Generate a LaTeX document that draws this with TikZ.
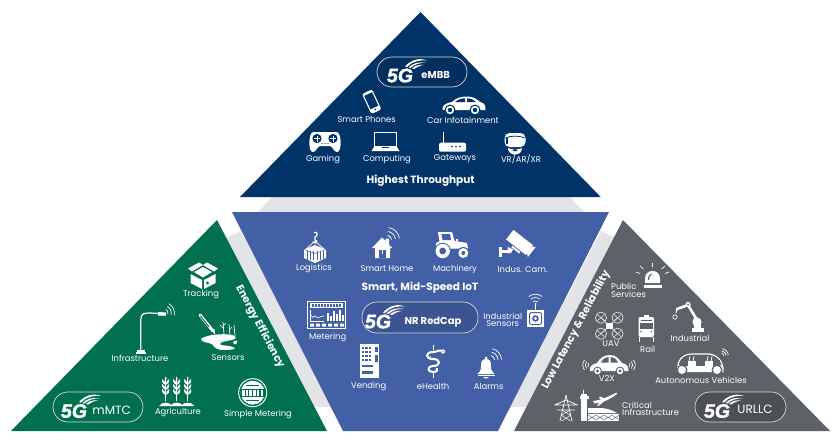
\documentclass[tikz,border=0pt]{standalone}
\usepackage{fontspec}
\setmainfont{Poppins}
\newfontfamily\logofont[BoldItalicFeatures={FakeBold=1.6}]{Liberation Sans}
\definecolor{navy}{RGB}{0,51,104}
\definecolor{bluemid}{RGB}{67,96,166}
\definecolor{greenmid}{RGB}{0,112,78}
\definecolor{graymid}{RGB}{93,98,104}
\definecolor{band}{RGB}{227,228,230}
\tikzset{
  lbl/.style={text=white,font=\fontsize{8.4}{8.4}\selectfont,inner sep=0pt},
  ttl/.style={text=white,font=\fontsize{10.5}{10.5}\selectfont\bfseries,inner sep=0pt},
  pilltxt/.style={text=white,font=\fontsize{10}{10}\selectfont\bfseries,inner sep=0pt},
  pillbig/.style={text=white,font=\fontsize{12}{12}\selectfont,inner sep=0pt},
  ico/.style={fill=white,draw=none},
  lin/.style={draw=white,line width=1pt,fill=none},
  thin line/.style={draw=white,line width=.7pt,fill=none},
  pillbox/.style={draw=white!85!black,line width=.7pt,rounded corners=15pt},
}
\newcommand{\wifiarcs}[5]{% x y angle radius0 step
  \foreach \k in {0,1,2}{
    \pgfmathsetmacro{\rr}{#4+\k*#5}
    \draw[thin line] (#1,#2) ++(#3-38:\rr) arc[start angle=#3-38,end angle=#3+38,radius=\rr];
  }}
\newcommand{\fiveG}[3]{% x y name
  \node[text=white,font=\logofont\fontsize{19.5}{19}\selectfont\bfseries\itshape,inner sep=0pt] (#3) at (#1,#2) {5G};
  \begin{scope}[shift={(#1,#2)}]
    \fill[white] (5,-9) .. controls (11,-16) and (20,-18) .. (27,-15) .. controls (20,-16) and (12,-14) .. (7,-8.5) -- cycle;
    \fill[white] (8.5,-8) .. controls (13,-12.5) and (19,-14) .. (26,-12.7) .. controls (20,-13) and (14.5,-11) .. (10.5,-7.5) -- cycle;
    \fill[white] (12,-7) .. controls (15,-10) and (19,-11) .. (24,-10.6) .. controls (20,-10) and (17,-8.5) .. (14,-6.5) -- cycle;
  \end{scope}}
\newcommand{\wheat}[1]{%
  \begin{scope}[shift={(#1,0)}]
    \draw[lin] (0,378) -- (0,401);
    \foreach \yy in {381,386,391}{
      \fill[white] (0,\yy+4) .. controls (-4,\yy+2) and (-4,\yy) .. (-3.5,\yy-2) .. controls (-1.5,\yy-1) and (-.5,\yy+1) .. (0,\yy+4);
      \fill[white] (0,\yy+4) .. controls (4,\yy+2) and (4,\yy) .. (3.5,\yy-2) .. controls (1.5,\yy-1) and (.5,\yy+1) .. (0,\yy+4);
    }
    \fill[white] (0,381) .. controls (-1.5,379) and (-1,378) .. (0,376.5) .. controls (1,378) and (1.5,379) .. (0,381);
    \fill[white] (-6.5,406) .. controls (-4,401.5) and (4,401.5) .. (6.5,406) -- cycle;
  \end{scope}}
\begin{document}
\begin{tikzpicture}[x=1pt,y=-1pt]
\useasboundingbox (0,0) rectangle (839,447);
\fill[white] (0,0) rectangle (839,447);
% bands
\fill[band] (272,197) -- (570,197) -- (584,212) -- (258,212) -- cycle;
\fill[band] (226,238) -- (241,231) -- (332,407) -- (312,407) -- cycle;
\fill[band] (615,238) -- (601,231) -- (510,407) -- (530,407) -- cycle;
% main shapes
\fill[navy] (420.5,12) -- (600.7,197) -- (240,197) -- cycle;
\fill[bluemid] (232,212) -- (609,212) -- (498,431) -- (343,431) -- cycle;
\fill[greenmid] (217,220) -- (327,431) -- (11,431) -- cycle;
\fill[graymid] (623,220) -- (830,431) -- (514,431) -- cycle;
% pills
\draw[pillbox,fill=navy!92!black] (377,57) rectangle (467,87);
\draw[pillbox,fill=bluemid!88!black] (362,302) rectangle (478,333);
\draw[pillbox,fill=greenmid] (53,392) rectangle (143,422);
\draw[pillbox,fill=graymid!82!black] (695,392) rectangle (786,422);
\fiveG{400}{75.5}{logoA}
\fiveG{378}{321.5}{logoB}
\fiveG{74}{411}{logoC}
\fiveG{717}{411}{logoD}
\node[pilltxt] (tembb) at (435.7,75) {eMBB};
\node[pilltxt] (tnr) at (433,322) {NR RedCap};
\node[pillbig] (tmm) at (111.7,410) {mMTC};
\node[pillbig] (turl) at (755,409.5) {URLLC};
% titles
\node[ttl] (t1) at (420.7,180.7) {Highest Throughput};
\node[ttl] (t2) at (420,287.7) {Smart, Mid-Speed IoT};
\node[ttl,rotate=-62] (t3) at (260,326.7) {Energy Efficiency};
\node[ttl,rotate=62] (t4) at (576,330) {Low Latency \& Reliability};
% labels
\node[lbl] (l01) at (366.7,119) {Smart Phones};
\node[lbl] (l02) at (463,120) {Car Infotainment};
\node[lbl] (l03) at (323,159) {Gaming};
\node[lbl] (l04) at (387,159) {Computing};
\node[lbl] (l05) at (455,159) {Gateways};
\node[lbl] (l06) at (521,159) {VR/AR/XR};
\node[lbl] (l07) at (314,268.7) {Logistics};
\node[lbl] (l08) at (387,268.7) {Smart Home};
\node[lbl] (l09) at (455,269) {Machinery};
\node[lbl] (l10) at (522.7,269) {Indus. Cam.};
\node[lbl] (l11) at (327.7,337) {Metering};
\node[lbl] (l12) at (502.7,316) {Industrial};
\node[lbl] (l13) at (502.7,324) {Sensors};
\node[lbl] (l14) at (368.7,386) {Vending};
\node[lbl] (l15) at (433,386) {eHealth};
\node[lbl] (l16) at (488.7,386) {Alarms};
\node[lbl] (l17) at (201,294) {Tracking};
\node[lbl] (l18) at (140,358) {Infrastructure};
\node[lbl] (l19) at (228,358) {Sensors};
\node[lbl] (l20) at (178,412.7) {Agriculture};
\node[lbl] (l21) at (258,414) {Simple Metering};
\node[lbl,anchor=west] (l22) at (611,286) {Public};
\node[lbl,anchor=west] (l23) at (611,294) {Services};
\node[lbl] (l24) at (611,344) {UAV};
\node[lbl] (l25) at (647.7,349) {Rail};
\node[lbl] (l26) at (690,338.7) {Industrial};
\node[lbl] (l27) at (606.7,378) {V2X};
\node[lbl] (l28) at (701,380) {Autonomous Vehicles};
\node[lbl,anchor=west] (l29) at (622,405) {Critical};
\node[lbl,anchor=west] (l30) at (622,412.7) {Infrastructure};
%% ICONS
% phone
\begin{scope}[shift={(371.7,101.7)},rotate=25]
  \draw[white,line width=1.1pt,rounded corners=1.6pt] (-5,-10.5) rectangle (5,10.5);
  \fill[white] (-5,6.5) rectangle (5,10.5);
  \fill[white] (-5,-10.5) rectangle (5,-8.5);
  \fill[navy] (0,8.5) circle[radius=1];
\end{scope}
% car
\fill[white] (442.5,110) .. controls (442,105) and (446,103) .. (452,102) .. controls (456,98) and (461,96.5) .. (467,96.5) .. controls (473,96.5) and (477,99) .. (480,102) .. controls (484,103) and (486,105) .. (485.5,110) -- cycle;
\fill[navy] (455,102) .. controls (458,99.5) and (461,98.5) .. (465,98.3) -- (465,102) -- cycle;
\fill[navy] (467,98.3) .. controls (471,98.3) and (474,100) .. (476,102) -- (467,102) -- cycle;
\foreach \xx in {450,475}{
  \fill[navy] (\xx,110) circle[radius=5.5];
  \fill[white] (\xx,110) circle[radius=4.2];
  \fill[navy] (\xx,110) circle[radius=2.2];
}
% gamepad
\fill[white] (314,132) -- (336,132) .. controls (339,132) and (340,135) .. (340.5,140) .. controls (341,147) and (340,152) .. (337,152) .. controls (334,152) and (333,147) .. (330,146) -- (320,146) .. controls (317,147) and (316,152) .. (313,152) .. controls (310,152) and (309,147) .. (309.5,140) .. controls (310,135) and (311,132) .. (314,132) -- cycle;
\foreach \xx in {317,333}{
  \fill[navy] (\xx,138.5) circle[radius=4.6];
  \fill[white] (\xx-3,138) rectangle (\xx+3,139);
  \fill[white] (\xx-.5,135.5) rectangle (\xx+.5,141.5);
}
\foreach \xx in {322,325,328}{\fill[navy] (\xx,143.5) circle[radius=.7];}
% laptop
\draw[white,line width=.9pt] (374.5,132) rectangle (396,146.5);
\fill[white] (374,147) -- (397,147) -- (399.5,151) -- (371.5,151) -- cycle;
\fill[navy] (382,147) rectangle (389,148);
% router
\fill[white,rounded corners=2pt] (439,142.7) rectangle (466,151.7);
\fill[white] (442.5,131.7) rectangle (444,144);
\foreach \xx in {452,456,460}{\fill[navy] (\xx,146.5) circle[radius=.9];}
% VR
\fill[white,rounded corners=5pt] (504.5,133) rectangle (525.5,147);
\draw[navy,line width=.8pt] (505,138) .. controls (511,135.5) and (519,135.5) .. (525,138);
\fill[navy] (506,137.5) rectangle (507.5,144);
\fill[white] (508,148) .. controls (511,150) and (519,150) .. (522,148) .. controls (522,152) and (519,154.5) .. (515,154.5) .. controls (511,154.5) and (508,152) .. (508,148);
\fill[navy] (512.5,150.2) .. controls (513.5,148.8) and (516.5,148.8) .. (517.5,150.2) -- (517,151) -- (513,151) -- cycle;
% logistics
\draw[white,line width=1.2pt] (314,232.5) .. controls (318,231) and (318,236) .. (315,237) -- (315,240) .. controls (319,241) and (316,245) .. (312.5,242);
\draw[thin line] (315,241) -- (306,249) (315,241) -- (324,249);
\fill[white] (304,249.5) -- (315,245) -- (326,249.5) -- (326,258) -- (315,263) -- (304,258) -- cycle;
\foreach \xx in {307,310,313,317,320,323}{\draw[bluemid,line width=.5pt] (\xx,251) -- (\xx,260);}
\draw[bluemid,line width=.5pt] (304,249.5) -- (315,253.5) -- (326,249.5);
% smart home
\fill[white] (372,248) -- (382,237.5) -- (385.5,241) -- (385.5,238.5) -- (389,238.5) -- (389,245) -- (392.5,248) -- (390,248) -- (390,258) -- (375,258) -- (375,248) -- cycle;
\fill[bluemid] (379,250) rectangle (385.5,258);
\fill[white] (381.5,250) rectangle (382.5,254);
\wifiarcs{387}{240}{-45}{4.5}{4}
% tractor
\fill[white] (438,232) -- (452,232) -- (454.5,241) -- (467,243) -- (468,248.5) -- (436,248.5) -- (436,243) -- (439.5,241.5) -- cycle;
\fill[white] (456,238.5) rectangle (458,242);
\fill[bluemid] (441.5,234) -- (450,234) -- (451,240) -- (442.5,240) -- cycle;
\foreach \xx/\yy/\ro/\ri in {442.7/251/7.2/3.4,463.3/253/5/2}{
  \fill[bluemid] (\xx,\yy) circle[radius=\ro+1];
  \fill[white] (\xx,\yy) circle[radius=\ro];
  \fill[bluemid] (\xx,\yy) circle[radius=\ri];
}
% camera
\begin{scope}[shift={(520,242.7)},rotate=-38]
  \fill[white] (-13,-6) rectangle (12,6);
  \fill[white] (12,-4) -- (15,-6.5) -- (15,6.5) -- (12,4) -- cycle;
  \fill[white] (-4,7) rectangle (6,9);
\end{scope}
\fill[white] (498.5,247) rectangle (502,257);
\fill[white] (502,249.5) rectangle (510,253);
\fill[white] (508,247) -- (513,249.5) -- (511,253) -- (507,253) -- cycle;
% metering
\draw[white,line width=.5pt] (307.5,301) rectangle (345.5,328.5);
\fill[white] (310,303) rectangle (343,308);
\foreach \xx in {312,315,318,321,324,327,330,333,336,339}{\fill[bluemid] (\xx,304.2) rectangle (\xx+1.6,306.8);}
\draw[white,line width=.5pt] (310,309.5) -- (310,321) -- (324,321);
\draw[white,line width=.6pt] (311,315) -- (313,317.5) -- (315,316) -- (318,318) -- (321,316.5) -- (324,316);
\foreach \xx/\hh in {327/8,330/5,333/10,336/7,339/11,342/6}{\fill[white] (\xx,321) rectangle (\xx+1.6,321-\hh);}
\foreach \xx in {310,316,322,328,334,340}{\fill[white,rounded corners=.5pt] (\xx,323.5) rectangle (\xx+4,326.5);}
% industrial sensors
\fill[white] (527,310) rectangle (544,327);
\draw[bluemid,line width=1pt,rounded corners=1.5pt] (529.5,312.5) rectangle (541.5,324.5);
\fill[bluemid] (535.5,318.5) circle[radius=3.3];
\fill[white] (535.5,318.5) circle[radius=1.7];
\draw[lin] (535.5,304) -- (535.5,310);
\fill[white] (535.5,304) circle[radius=1];
\wifiarcs{535.5}{305}{-90}{4}{3.4}
% vending
\fill[white] (360,344) rectangle (379,378);
\foreach \yy in {347,351,355,359}{
  \foreach \xx in {361.5,365,368.5}{\fill[bluemid] (\xx,\yy) rectangle (\xx+2.5,\yy+2.2);}
}
\fill[bluemid] (361.5,365) rectangle (372.5,367);
\fill[bluemid] (361.5,371) rectangle (372.5,374);
\fill[bluemid] (374.5,347) rectangle (377.5,352);
\fill[bluemid] (374.5,355) rectangle (377.5,362);
% eHealth
\draw[lin] (433,345) -- (433,350) (433,372) -- (433,378);
\draw[white,line width=2pt] (443,351.5) .. controls (440,349) and (437,352) .. (433,352) .. controls (425,352) and (425,359) .. (433,359) .. controls (441,359) and (441,366) .. (433,366) .. controls (427,366) and (427,372) .. (433,372) .. controls (437,372) and (438,370) .. (437,368);
\fill[white] (443,351.5) circle[radius=2.2];
\fill[bluemid] (443,351.5) circle[radius=.7];
\draw[lin] (430,356) -- (430,357);
% bell
\fill[white] (486,358) circle[radius=1.5];
\fill[white] (486,359) .. controls (481,359) and (481,363) .. (481,367) .. controls (481,371) and (479,372) .. (477.5,374) -- (494.5,374) .. controls (493,372) and (491,371) .. (491,367) .. controls (491,363) and (491,359) .. (486,359) -- cycle;
\fill[white] (477.5,375) rectangle (494.5,376);
\fill[white] (483,377) .. controls (484,379) and (488,379) .. (489,377) -- cycle;
\wifiarcs{490}{360}{-40}{4.5}{3.5}
% tracking box
\fill[white] (190.5,274) -- (202,280) -- (202,289) -- (190.5,283) -- cycle;
\fill[white] (204,280) -- (215.5,274) -- (215.5,283) -- (204,289) -- cycle;
\fill[white] (188,268.5) -- (199,262.5) -- (203,265) -- (192,271.5) -- cycle;
\fill[white] (218,268.5) -- (207,262.5) -- (203,265) -- (214,271.5) -- cycle;
\fill[white] (203,267) -- (212,272) -- (203,277.5) -- (194,272) -- cycle;
\fill[greenmid] (207.5,283) circle[radius=1.6];
% streetlight
\draw[white,line width=1.2pt] (140.7,350) -- (140.7,320) .. controls (140.7,313.5) and (144,313) .. (150,313) -- (160,313.5);
\fill[white] (158,312) -- (166,312.5) -- (166,315.5) -- (158,315.5) -- cycle;
\fill[white] (137,350) rectangle (145,352);
\fill[white] (136,352) rectangle (146,353.5);
\wifiarcs{164}{313}{-25}{4}{3.2}
% sensors
\draw[white,line width=3pt,line cap=round] (200,315) -- (213,331);
\draw[greenmid,line width=1pt,line cap=round] (200.5,316) -- (209,327);
\fill[white] (215,335) -- (211.5,330) -- (214.5,329) -- cycle;
\fill[white] (201,339) .. controls (205,335) and (222,333) .. (232,335) .. controls (237,336) and (237,339) .. (232,340) .. controls (226,341) and (220,342) .. (220,344) .. controls (220,346) and (228,345) .. (233,347) .. controls (238,349) and (232,350) .. (224,350) .. controls (216,350) and (214,347) .. (213,345) .. controls (210,342) and (201,343) .. (201,339) -- cycle;
\fill[white] (233,342) .. controls (236,340) and (238,340) .. (237,343) .. controls (236,345) and (234,345) .. (233,342);
\draw[thin line] (224,334) -- (223,322) (230,335) -- (229,324) (235,336) -- (234,325);
\draw[thin line] (223,328) -- (220,325) (223,326) -- (226,323) (229,330) -- (232,327);
% agriculture
\wheat{165.7}\wheat{176.7}\wheat{187.7}
% simple metering
\fill[white] (252.7,392.7) circle[radius=14.5];
\fill[greenmid] (252.7,392.7) circle[radius=13.5];
\fill[white] (252.7,392.7) circle[radius=12];
\fill[greenmid] (240.7,388.5) rectangle (264.7,397);
\foreach \xx in {242,245.7,249.4,253.1,256.8,260.5}{\fill[white] (\xx,389.7) rectangle (\xx+2.6,395.8);}
\fill[greenmid] (246,385) rectangle (259,386);
\fill[greenmid] (246,399.5) rectangle (259,400.5);
% siren
\fill[white] (645,283) -- (645,279) .. controls (645,273) and (649,271) .. (652.5,271) .. controls (656,271) and (660,273) .. (660,279) -- (660,283) -- cycle;
\fill[graymid] (648,280) .. controls (648,276) and (649,274) .. (652,273.5) -- (652,274.5) .. controls (650,275) and (649,277) .. (649,280) -- cycle;
\fill[white] (643.5,285) rectangle (661.5,288);
\draw[thin line] (652.5,263) -- (652.5,267) (640,266) -- (643.5,269) (665,266) -- (661.5,269) (636,272) -- (640,273.5) (669,272) -- (665,273.5);
% UAV
\foreach \sx/\sy in {-8.3/-8,8.3/-8,-8.3/8,8.3/8}{
  \draw[white!80!graymid,line width=.7pt] (609.3,325.7) -- (609.3+\sx,325.7+\sy);
  \draw[white!80!graymid,line width=.7pt] (609.3+\sx,325.7+\sy) circle[radius=5.6];
  \draw[white!80!graymid,line width=.6pt] (609.3+\sx-3.5,325.7+\sy-3) -- (609.3+\sx+3.5,325.7+\sy+3) (609.3+\sx+3.5,325.7+\sy-3) -- (609.3+\sx-3.5,325.7+\sy+3);
}
\fill[white] (606,322.5) rectangle (612.6,329);
% rail
\fill[white,rounded corners=2pt] (638.5,317) rectangle (654,337);
\fill[white] (644,314.5) rectangle (648.5,317);
\fill[graymid] (640,323) rectangle (652.5,329);
\fill[graymid] (641,331.5) circle[radius=.9];
\fill[graymid] (651.5,331.5) circle[radius=.9];
\draw[lin] (639,337) -- (639,342) (653.5,337) -- (653.5,342);
\draw[graymid,line width=.5pt] (641,320) -- (652,320);
% robot
\draw[white,line width=2.6pt,line cap=round] (677,309) -- (688,305) -- (697,320);
\fill[white] (688,304.5) circle[radius=2.6];
\fill[graymid] (688,304.5) circle[radius=1];
\draw[lin] (677,309) -- (676,313);
\draw[thin line] (675,317) circle[radius=2.2];
\fill[white] (697,322) circle[radius=4.6];
\fill[white] (694,324) rectangle (701,328);
\fill[white] (691.5,328) rectangle (703.5,332);
% V2X car
\fill[white] (590,371) .. controls (589,366) and (593,364) .. (597,363) .. controls (600,358) and (604,355) .. (610,355) .. controls (616,355) and (619,359) .. (622,363) .. controls (627,364) and (629,367) .. (628.5,371) -- cycle;
\fill[graymid] (601,362.5) .. controls (603,359) and (605,357) .. (608.5,356.8) -- (608.5,362.5) -- cycle;
\fill[graymid] (610.5,356.8) .. controls (614,357) and (616,359) .. (618,362.5) -- (610.5,362.5) -- cycle;
\foreach \xx in {597.5,620}{
  \fill[graymid] (\xx,371) circle[radius=4.4];
  \fill[white] (\xx,371) circle[radius=3.3];
  \fill[graymid] (\xx,371) circle[radius=1.7];
}
\wifiarcs{627}{365}{0}{3}{2.6}
\wifiarcs{591}{365}{180}{3}{2.6}
% autonomous
\draw[white,line width=1.1pt,fill=graymid] (678,370) .. controls (677,362) and (681,354.5) .. (691,354) -- (709,354) .. controls (718,355) and (723,362) .. (723,370);
\fill[white] (678,365) -- (723,365) -- (723.5,372) -- (678,372) -- cycle;
\fill[graymid] (681,360) rectangle (720,365.5);
\fill[white] (688,361) rectangle (696,366);
\fill[white] (705,361) rectangle (713,366);
\draw[thin line] (690,356) -- (689,362) (694,356) -- (693,362) (708,356) -- (707,362) (712,356) -- (711,362);
\foreach \xx in {682,717}{
  \fill[graymid] (\xx,370) circle[radius=5.5];
  \fill[white] (\xx,370) circle[radius=4];
}
\wifiarcs{721}{356}{-45}{3}{2.2}
% pylon
\draw[white,line width=.7pt] (566,395) -- (560,421) (566,395) -- (572,421);
\draw[white,line width=.7pt] (555,405) -- (577,405) (557,410) -- (575,410) (554.5,405) -- (566,400) -- (577.5,405);
\draw[white,line width=.5pt] (561,415) -- (570.5,421) (571,415) -- (561.5,421) (562,410) -- (570,415) (570,410) -- (562,415);
% tower and airport
\fill[white] (581,394) rectangle (587,420.5);
\fill[white] (579.5,396) rectangle (588.5,399);
\draw[thin line] (583.5,389.5) -- (583.5,394);
\fill[white] (588,408) -- (600,408) .. controls (606,408) and (612,410) .. (617,413) -- (588,413) -- cycle;
\fill[white] (588,414) rectangle (619,420.5);
\draw[graymid,line width=.4pt] (588,415) -- (596,420) -- (604,415) -- (612,420) -- (619,415) (588,420) -- (596,415) -- (604,420) -- (612,415) -- (619,420);
\fill[white] (593,401) .. controls (600,400.5) and (610,396) .. (616.5,392.5) -- (617,394) .. controls (613,397) and (608,400) .. (604,401.5) -- (599,405.5) -- (597,405.5) -- (599.5,402.5) -- (594.5,403.5) -- cycle;
\fill[white] (599,398) -- (602,399.5) -- (605,398.5) -- (600,396.5) -- cycle;
\end{tikzpicture}
\end{document}
